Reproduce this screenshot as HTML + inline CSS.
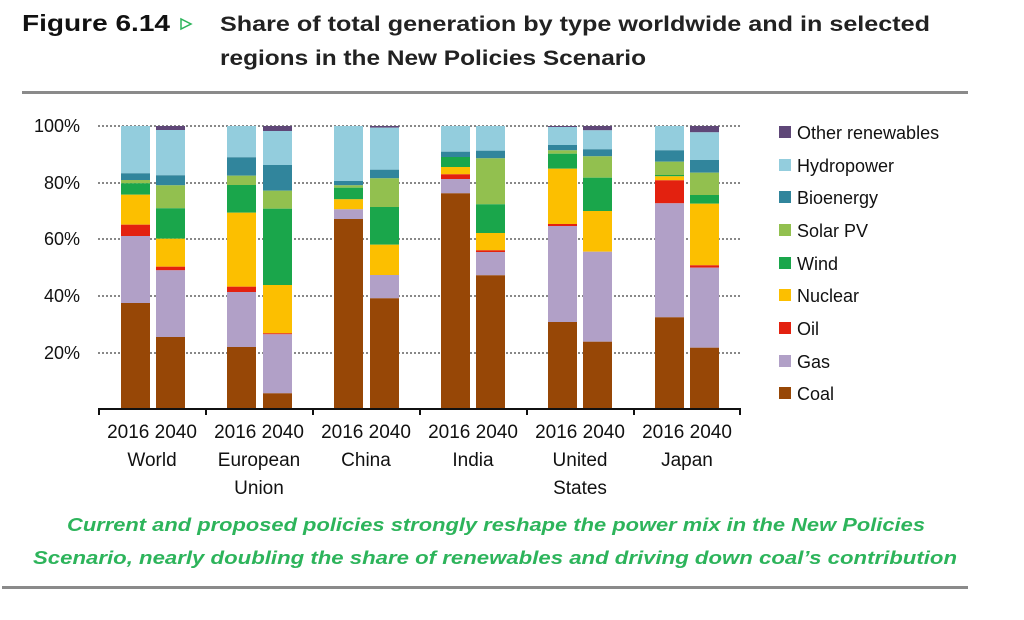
<!DOCTYPE html>
<html><head><meta charset="utf-8"><style>
body{margin:0;background:#fff;width:1024px;height:620px;overflow:hidden}
svg{display:block}
text{font-family:"Liberation Sans",sans-serif}
</style></head><body>
<svg width="1024" height="620" viewBox="0 0 1024 620" xmlns="http://www.w3.org/2000/svg">
<text x="22" y="31" font-size="23" font-weight="bold" fill="#111" textLength="148" lengthAdjust="spacingAndGlyphs">Figure 6.14</text>
<polygon points="181,19 181,29 191,24" fill="none" stroke="#2db45b" stroke-width="1.5"/>
<text x="220" y="31" font-size="21" font-weight="bold" fill="#222" textLength="710" lengthAdjust="spacingAndGlyphs">Share of total generation by type worldwide and in selected</text>
<text x="220" y="65" font-size="21" font-weight="bold" fill="#222" textLength="426" lengthAdjust="spacingAndGlyphs">regions in the New Policies Scenario</text>
<rect x="22" y="91" width="946" height="3" fill="#8a8a8a"/>
<rect x="2" y="586" width="966" height="3" fill="#8a8a8a"/>
<g stroke="#888" stroke-width="2" stroke-dasharray="2,2">
<line x1="98" y1="126" x2="740" y2="126"/><line x1="98" y1="183" x2="740" y2="183"/>
<line x1="98" y1="239" x2="740" y2="239"/><line x1="98" y1="296" x2="740" y2="296"/>
<line x1="98" y1="353" x2="740" y2="353"/>
</g>
<g font-size="18" fill="#111" text-anchor="end">
<text x="80" y="132">100%</text><text x="80" y="189">80%</text><text x="80" y="245">60%</text><text x="80" y="302">40%</text><text x="80" y="359">20%</text>
</g>
<g id="bars"></g>
<g stroke="#111" stroke-width="2" fill="none">
<line x1="98" y1="409" x2="741" y2="409"/>
<line x1="99" y1="409" x2="99" y2="415"/><line x1="206" y1="409" x2="206" y2="415"/><line x1="313" y1="409" x2="313" y2="415"/><line x1="420" y1="409" x2="420" y2="415"/><line x1="527" y1="409" x2="527" y2="415"/><line x1="634" y1="409" x2="634" y2="415"/><line x1="740" y1="409" x2="740" y2="415"/>
</g>
<g font-size="19" fill="#111" text-anchor="middle">
<text x="152" y="438">2016 2040</text><text x="259" y="438">2016 2040</text><text x="366" y="438">2016 2040</text><text x="473" y="438">2016 2040</text><text x="580" y="438">2016 2040</text><text x="687" y="438">2016 2040</text>
<text x="152" y="466">World</text><text x="259" y="466">European</text><text x="259" y="494">Union</text><text x="366" y="466">China</text><text x="473" y="466">India</text><text x="580" y="466">United</text><text x="580" y="494">States</text><text x="687" y="466">Japan</text>
</g>
<g font-size="18" fill="#111">
<rect x="779" y="126" width="12" height="12" fill="#5f4778"/><text x="797" y="139">Other renewables</text>
<rect x="779" y="159" width="12" height="12" fill="#93cddd"/><text x="797" y="172">Hydropower</text>
<rect x="779" y="191" width="12" height="12" fill="#31859c"/><text x="797" y="204">Bioenergy</text>
<rect x="779" y="224" width="12" height="12" fill="#92c04f"/><text x="797" y="237">Solar PV</text>
<rect x="779" y="257" width="12" height="12" fill="#1aa64b"/><text x="797" y="270">Wind</text>
<rect x="779" y="289" width="12" height="12" fill="#fcbf00"/><text x="797" y="302">Nuclear</text>
<rect x="779" y="322" width="12" height="12" fill="#e3210f"/><text x="797" y="335">Oil</text>
<rect x="779" y="355" width="12" height="12" fill="#b1a0c7"/><text x="797" y="368">Gas</text>
<rect x="779" y="387" width="12" height="12" fill="#974706"/><text x="797" y="400">Coal</text>
</g>
<g font-size="18" font-weight="bold" font-style="italic" fill="#2db45b">
<text x="67" y="531" textLength="858" lengthAdjust="spacingAndGlyphs">Current and proposed policies strongly reshape the power mix in the New Policies</text>
<text x="33" y="564" textLength="924" lengthAdjust="spacingAndGlyphs">Scenario, nearly doubling the share of renewables and driving down coal’s contribution</text>
</g>
</svg>
<script>
var cols=["#5f4778","#93cddd","#31859c","#92c04f","#1aa64b","#fcbf00","#e3210f","#b1a0c7","#974706"];
var bars=[
[121,[126,126,173.3,180,183.3,194.7,224.7,236,303,409]],
[156,[126,130,175.3,185.3,208.3,238.7,266.7,270.3,337,409]],
[227,[126,126,157.3,175.7,185,212.7,286.7,292,347,409]],
[263,[126,131,165,190.7,208.7,285,333.3,334.3,393.3,409]],
[334,[126,126,181,185.3,187.7,199.3,209.3,209.3,219,409]],
[370,[126,127.7,169.7,178.3,207,244.7,275,275,298.3,409]],
[441,[126,126,151.7,157,157,167,174.3,179,193.3,409]],
[476,[126,126,150.7,158.3,204.3,233,250.3,252,275.3,409]],
[548,[126,127,145,150.3,153.7,168.7,224,226,322,409]],
[583,[126,130.3,149.3,156.3,177.7,211,251.7,251.7,341.7,409]],
[655,[126,126,150.3,161.7,175,176.3,180.3,203.3,317.3,409]],
[690,[126,132.3,160,172.7,195,203.7,265.3,267.7,347.7,409]]];
var g=document.getElementById("bars"),s="";
bars.forEach(function(b){for(var i=0;i<9;i++){var y1=b[1][i],y2=b[1][i+1];if(y2>y1)s+='<rect x="'+b[0]+'" y="'+y1+'" width="29" height="'+(y2-y1)+'" fill="'+cols[i]+'"/>';}});
g.innerHTML=s;
</script>
</body></html>
